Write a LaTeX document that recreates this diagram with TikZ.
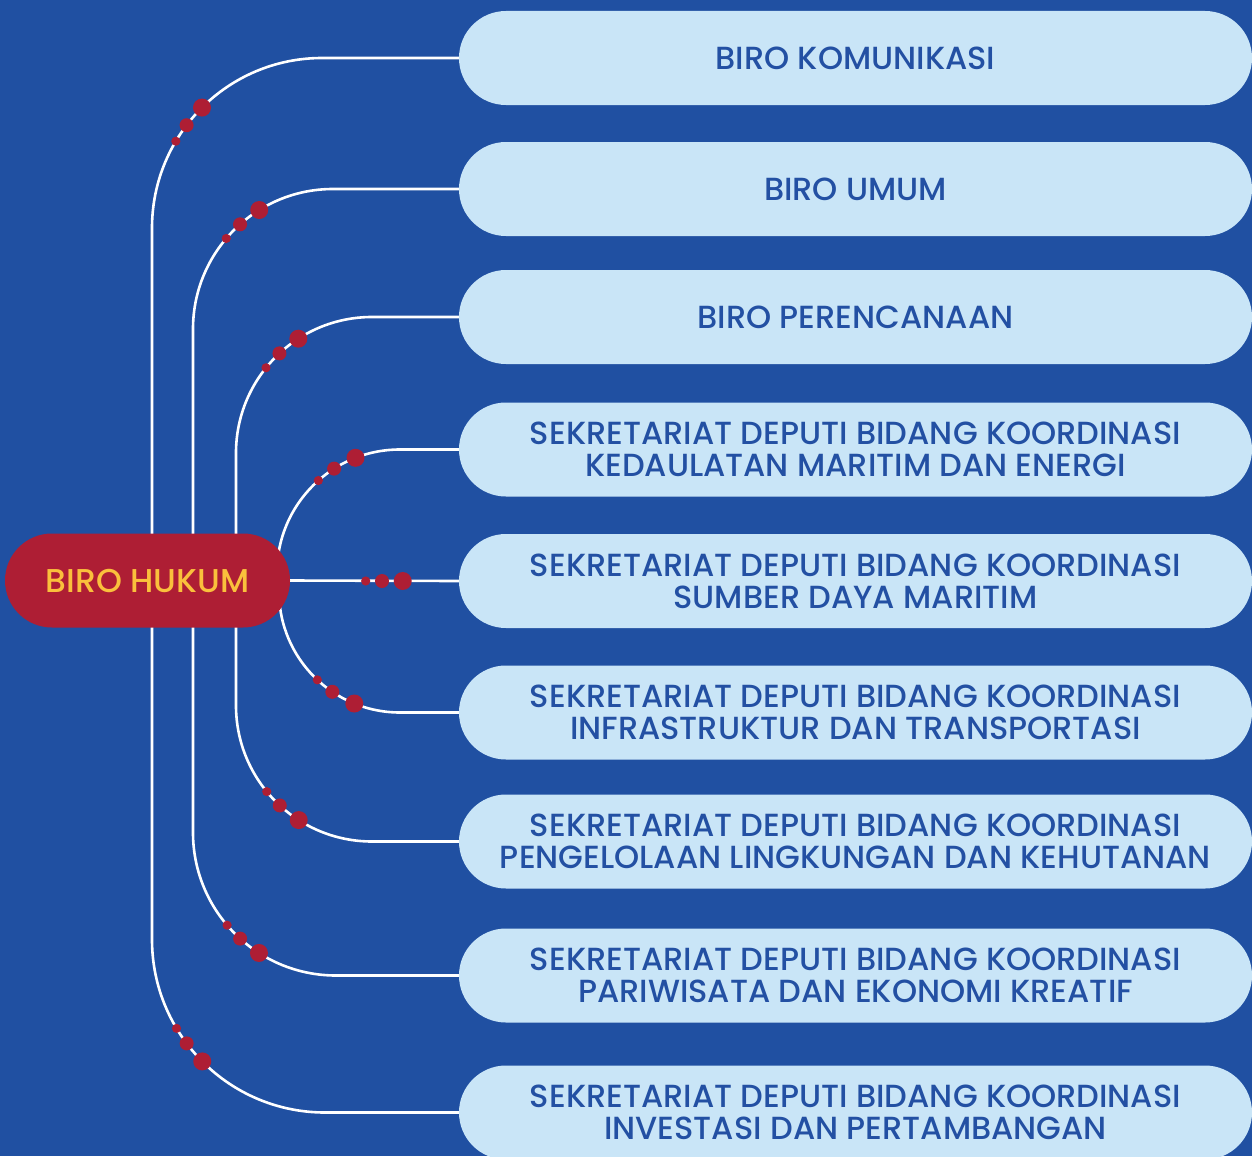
\documentclass[tikz,border=0pt]{standalone}
\usepackage{fontspec}
\setmainfont{Poppins Medium}
\usetikzlibrary{calc,backgrounds}
\definecolor{bgblue}{HTML}{2050A2}
\definecolor{boxblue}{HTML}{C9E5F7}
\definecolor{hubred}{HTML}{AE1E34}
\definecolor{hubtext}{HTML}{FAC03C}
\definecolor{txtblue}{HTML}{2350A3}
\newcommand\mydots[5]{%
  \fill[hubred] ($(#1)+(#3:#2pt)$) circle[radius=9pt];
  \fill[hubred] ($(#1)+(#4:#2pt)$) circle[radius=7pt];
  \fill[hubred] ($(#1)+(#5:#2pt)$) circle[radius=4.6pt];}
\begin{document}
\begin{tikzpicture}[x=1pt,y=1pt,
  unitbox/.style={fill=boxblue, rounded corners=47pt, minimum width=793pt,
    minimum height=94pt, inner sep=0pt, text=txtblue, align=center,
    font=\fontsize{32}{32}\selectfont},
  hubbox/.style={fill=hubred, rounded corners=47pt, minimum width=285pt,
    minimum height=94pt, inner sep=0pt, text=hubtext,
    font=\fontsize{33}{33}\selectfont},
  link/.style={draw=white, line width=2.6pt}]
\useasboundingbox (0,0) rectangle (1252,-1156);
\node[hubbox] (h) at (147.5,-580.5) {BIRO HUKUM};
\node[unitbox] (b1) at (855.5,-58) {BIRO KOMUNIKASI};
\node[unitbox] (b2) at (855.5,-189) {BIRO UMUM};
\node[unitbox] (b3) at (855.5,-317) {BIRO PERENCANAAN};
\node[unitbox] (b4) at (855.5,-449.5) {SEKRETARIAT DEPUTI BIDANG KOORDINASI\\KEDAULATAN MARITIM DAN ENERGI};
\node[unitbox] (b5) at (855.5,-581) {SEKRETARIAT DEPUTI BIDANG KOORDINASI\\SUMBER DAYA MARITIM};
\node[unitbox] (b6) at (855.5,-712.5) {SEKRETARIAT DEPUTI BIDANG KOORDINASI\\INFRASTRUKTUR DAN TRANSPORTASI};
\node[unitbox] (b7) at (855.5,-841.5) {SEKRETARIAT DEPUTI BIDANG KOORDINASI\\PENGELOLAAN LINGKUNGAN DAN KEHUTANAN};
\node[unitbox] (b8) at (855.5,-975.5) {SEKRETARIAT DEPUTI BIDANG KOORDINASI\\PARIWISATA DAN EKONOMI KREATIF};
\node[unitbox] (b9) at (855.5,-1112.5) {SEKRETARIAT DEPUTI BIDANG KOORDINASI\\INVESTASI DAN PERTAMBANGAN};
\begin{pgfonlayer}{background}
\fill[bgblue] (0,0) rectangle (1252,-1156);
\coordinate (v1) at (152,-228); \coordinate (c1) at (322,-228);
\coordinate (v2) at (193,-329); \coordinate (c2) at (333,-329);
\coordinate (v3) at (236,-453); \coordinate (c3) at (372,-453);
\coordinate (s4) at (277,-572.5); \coordinate (c4) at (400,-572.5);
\coordinate (s6) at (279,-591.5); \coordinate (c6) at (400,-591.5);
\coordinate (v7) at (236,-705.5); \coordinate (c7) at (372,-705.5);
\coordinate (v8) at (193,-832.5); \coordinate (c8) at (336,-832.5);
\coordinate (v9) at (152,-939.5); \coordinate (c9) at (325,-939.5);
\draw[link] (h.center -| v1) -- (v1) arc[start angle=180,end angle=90,radius=170pt] -- (b1.west);
\draw[link] (h.center -| v2) -- (v2) arc[start angle=180,end angle=90,radius=140pt] -- (b2.west);
\draw[link] (h.center -| v3) -- (v3) arc[start angle=180,end angle=90,radius=136pt] -- (b3.west);
\draw[link] (s4) arc[start angle=180,end angle=90,radius=123pt] -- (b4.west);
\draw[link] (h.east) -- (b5.west);
\draw[link] (s6) arc[start angle=180,end angle=270,radius=121pt] -- (b6.west);
\draw[link] (h.center -| v7) -- (v7) arc[start angle=180,end angle=270,radius=136pt] -- (b7.west);
\draw[link] (h.center -| v8) -- (v8) arc[start angle=180,end angle=270,radius=143pt] -- (b8.west);
\draw[link] (h.center -| v9) -- (v9) arc[start angle=180,end angle=270,radius=173pt] -- (b9.west);
\mydots{c1}{170}{134.9}{142.8}{149.3}
\mydots{c2}{140}{121.8}{131.6}{139.7}
\mydots{c3}{136}{122.8}{132.9}{141.2}
\mydots{c4}{123}{111.2}{122.4}{131.6}
\mydots{c6}{121}{247.8}{236}{226.9}
\mydots{c7}{136}{237.4}{227.3}{219.3}
\mydots{c8}{143}{237.4}{227.9}{220.4}
\mydots{c9}{173}{224.8}{216.9}{210.9}
\fill[hubred] (402.7,-581) circle[radius=9pt];
\fill[hubred] (382,-581) circle[radius=7pt];
\fill[hubred] (365.7,-581) circle[radius=4.6pt];
\end{pgfonlayer}
\end{tikzpicture}
\end{document}
